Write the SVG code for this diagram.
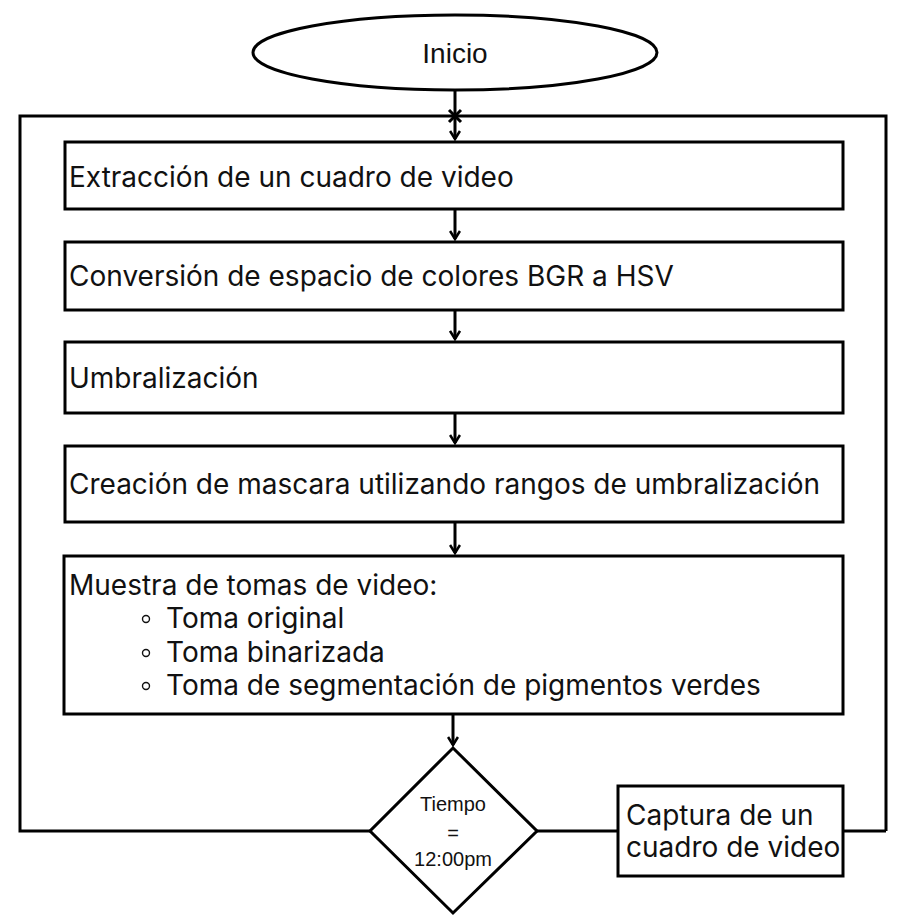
<svg xmlns="http://www.w3.org/2000/svg" width="906" height="920" viewBox="0 0 906 920">
<defs>
<marker id="ah" markerWidth="12" markerHeight="12" refX="10" refY="6" orient="auto" markerUnits="userSpaceOnUse">
<path d="M2,1 L10,6 L2,11" fill="none" stroke="#000" stroke-width="2.6"/>
</marker>
<style>
.box{fill:#fff;stroke:#000;stroke-width:3}
.ln{fill:none;stroke:#000;stroke-width:3}
.t{font-family:Inter,"Liberation Sans",sans-serif;font-size:28px;fill:#111}
.a{font-family:"Liberation Sans",Arial,sans-serif;fill:#111;text-anchor:middle}
</style>
</defs>
<rect width="906" height="920" fill="#fff"/>
<g id="connectors">
<path class="ln" d="M886,831 V116 H20 V831 H370"/>
<path class="ln" d="M537,831 H618"/>
<path class="ln" d="M843,831 H886"/>
<path class="ln" d="M455,90 V139" marker-end="url(#ah)"/>
<path class="ln" d="M449,110 L461,122 M461,110 L449,122"/>
<path class="ln" d="M455,209 V239" marker-end="url(#ah)"/>
<path class="ln" d="M455,310 V339" marker-end="url(#ah)"/>
<path class="ln" d="M455,413 V443" marker-end="url(#ah)"/>
<path class="ln" d="M455,522 V553" marker-end="url(#ah)"/>
<path class="ln" d="M453,714 V745" marker-end="url(#ah)"/>
</g>
<g id="inicio">
<ellipse class="box" cx="455" cy="52.5" rx="202" ry="37.5"/>
<text class="a" x="455" y="63" font-size="28">Inicio</text>
</g>
<g id="n1">
<rect class="box" x="65" y="142" width="778" height="67"/>
<text class="t" x="69" y="187">Extracción de un cuadro de video</text>
</g>
<g id="n2">
<rect class="box" x="65" y="242" width="778" height="68"/>
<text class="t" x="69" y="286">Conversión de espacio de colores BGR a HSV</text>
</g>
<g id="n3">
<rect class="box" x="65" y="342" width="778" height="71"/>
<text class="t" x="69" y="388">Umbralización</text>
</g>
<g id="n4">
<rect class="box" x="65" y="446" width="778" height="76"/>
<text class="t" x="69" y="494">Creación de mascara utilizando rangos de umbralización</text>
</g>
<g id="n5">
<rect class="box" x="64" y="556" width="779" height="158"/>
<text class="t" x="69" y="595">Muestra de tomas de video:</text>
<circle cx="146" cy="619" r="3.5" fill="none" stroke="#111" stroke-width="1.4"/>
<text class="t" x="166" y="628">Toma original</text>
<circle cx="146" cy="653" r="3.5" fill="none" stroke="#111" stroke-width="1.4"/>
<text class="t" x="166" y="662">Toma binarizada</text>
<circle cx="146" cy="686" r="3.5" fill="none" stroke="#111" stroke-width="1.4"/>
<text class="t" x="166" y="695">Toma de segmentación de pigmentos verdes</text>
</g>
<g id="decision">
<path class="box" d="M453,748 L537,831 L453,913 L370,831 Z"/>
<text class="a" x="453" y="811" font-size="20">Tiempo</text>
<text class="a" x="453" y="840" font-size="20">=</text>
<text class="a" x="453" y="866" font-size="20">12:00pm</text>
</g>
<g id="captura">
<rect class="box" x="618" y="786" width="225" height="90"/>
<text class="t" x="626" y="825">Captura de un</text>
<text class="t" x="626" y="857">cuadro de video</text>
</g>
</svg>
